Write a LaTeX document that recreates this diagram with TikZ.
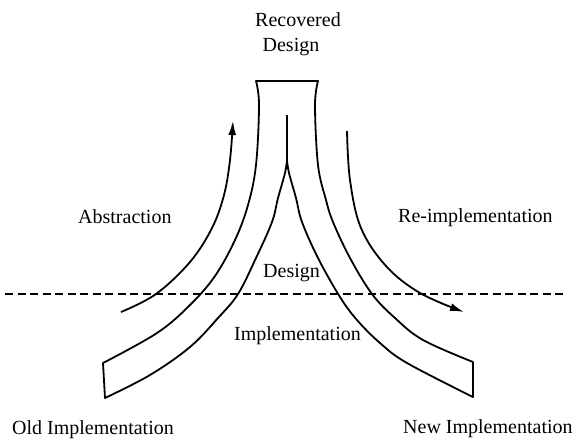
\documentclass[tikz,border=0pt]{standalone}
\usepackage{fontspec}
\setmainfont{Liberation Serif}
\usetikzlibrary{arrows.meta}
\tikzset{
  tubeline/.style={line width=1.8pt, line join=round},
  flowarrow/.style={line width=1.8pt, -{Latex[length=14pt,width=8pt]}},
  levelline/.style={line width=1.5pt, dash pattern=on 8pt off 4.5pt},
  lbl/.style={inner sep=0pt, anchor=base west, font=\fontsize{20}{24}\selectfont},
}
\begin{document}
\begin{tikzpicture}[x=1pt,y=-1pt]
\useasboundingbox (0,0) rectangle (582,440);
% dashed level line
\coordinate (dl) at (5,294);
\coordinate (dr) at (567,294);
\draw[levelline] (dl) -- (dr);
% tube (Y shape)
\draw[tubeline] (256,81) -- (318,81)
  -- plot[smooth, tension=0.6] coordinates {(318,81) (315,105) (318,165) (326,200) (333,222) (350,258) (372,294) (395,318) (423,340) (473,362)}
  -- (473,397)
  -- plot[smooth, tension=0.6] coordinates {(473,397) (407,363) (380,343) (357,320) (340,297) (318,258) (302,222) (296,198) (289,173) (287,160)}
  -- plot[smooth, tension=0.6] coordinates {(287,160) (285,173) (278,198) (272,222) (256,258) (238,294) (218,318) (190,347) (150,375) (105,398)}
  -- (103,363)
  -- plot[smooth, tension=0.6] coordinates {(103,363) (157,333) (190,305) (215,276) (235,240) (248,205) (256,165) (259,105) (256,81)}
  -- cycle;
\coordinate (apex) at (287,115);
\coordinate (fork) at (287,160);
\draw[tubeline] (fork) -- (apex);
% arrows
\draw[flowarrow] plot[smooth, tension=0.6] coordinates {(121,312) (156,294) (190,262) (212,228) (224,195) (230,160) (233,121)};
\draw[flowarrow] plot[smooth, tension=0.6] coordinates {(347,131) (350,180) (361,228) (386,266) (420,293) (464,312)};
% labels
\node[lbl, anchor=base] (rec) at (298,26) {Recovered};
\node[lbl, anchor=base] (recd) at (291,51) {Design};
\node[lbl] (abs) at (78,223) {Abstraction};
\node[lbl] (reimp) at (398,222) {Re-implementation};
\node[lbl] (des) at (263,277) {Design};
\node[lbl] (imp) at (234,340) {Implementation};
\node[lbl] (old) at (12,434) {Old Implementation};
\node[lbl] (new) at (403,433) {New Implementation};
\end{tikzpicture}
\end{document}
